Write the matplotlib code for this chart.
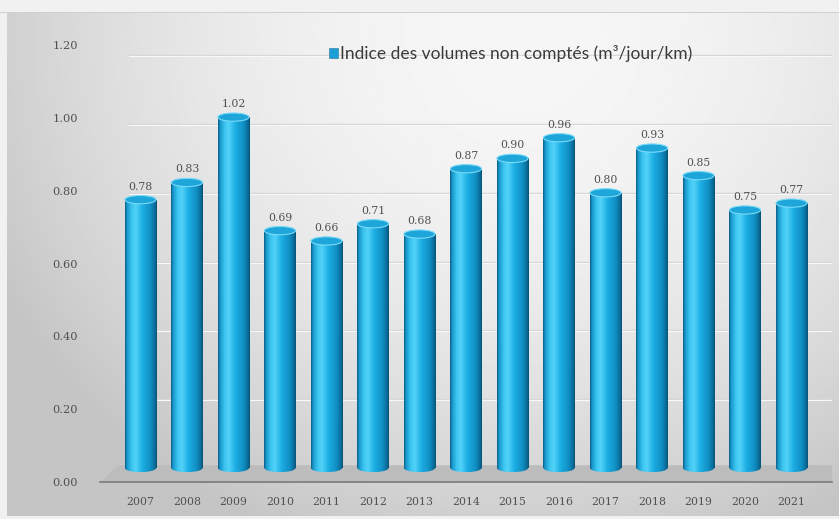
import numpy as np
import matplotlib
matplotlib.use("Agg")
import matplotlib.pyplot as plt
from matplotlib.colors import LinearSegmentedColormap
from matplotlib.patches import Ellipse, Polygon, Rectangle

years = ["2007", "2008", "2009", "2010", "2011", "2012", "2013", "2014",
         "2015", "2016", "2017", "2018", "2019", "2020", "2021"]
values = [0.78, 0.83, 1.02, 0.69, 0.66, 0.71, 0.68, 0.87,
          0.90, 0.96, 0.80, 0.93, 0.85, 0.75, 0.77]
yticks = [0.00, 0.20, 0.40, 0.60, 0.80, 1.00, 1.20]
legend_label = "Indice des volumes non comptés (m³/jour/km)"

W, H = 839, 519
fig = plt.figure(figsize=(W / 100, H / 100), dpi=100)
fig.patch.set_facecolor("#f1f1f1")

def rect(x0, y0, x1, y1):
    # pixel box (top-left origin) -> figure fraction
    return [x0 / W, 1 - y1 / H, (x1 - x0) / W, (y1 - y0) / H]

# background gradient panel
bg = fig.add_axes(rect(7, 13, 839, 516), zorder=0)
gx, gy = np.meshgrid(np.linspace(0, 1, 400), np.linspace(0, 1, 250))
r2 = ((gx - 0.62) / 0.72) ** 2 + ((gy - 0.05) / 1.1) ** 2
val = np.clip(0.965 - 0.2 * r2, 0.77, 0.97)
bg.imshow(val, cmap="gray", vmin=0, vmax=1, aspect="auto",
          extent=[0, 1, 1, 0], interpolation="bilinear")
bg.set_xlim(0, 1); bg.set_ylim(1, 0)
bg.axis("off")
# top separation line
fig.add_artist(Rectangle((0, 1 - 13 / H), 1, 1.2 / H, transform=fig.transFigure,
                         facecolor="#cfcfcf", edgecolor="none", zorder=1))

# main axes: pixel 46..482 vertical, 100..832 horizontal
ax = fig.add_axes(rect(100, 46, 832, 482), zorder=2)
ax.patch.set_alpha(0)
x = np.arange(len(years))
ax.set_xlim(-0.87, 14.87)
ax.set_ylim(-0.0407, 1.2267)
for s in ax.spines.values():
    s.set_visible(False)
ax.set_xticks(x)
ax.set_xticklabels(years, family="DejaVu Serif", fontsize=7.8, color="#505050")
ax.tick_params(axis="x", length=0, pad=11)
ax.set_yticks([])

# back wall gridlines
for v in yticks[1:]:
    ax.axhline(v, xmin=0.04, xmax=1.0, color="#d6d6d6", lw=1.0, zorder=1)
    ax.axhline(v - 0.003, xmin=0.04, xmax=1.0, color="#f8f8f8", lw=0.8, zorder=1)

# floor
floor = Polygon([[-0.87, -0.0407], [-0.48, 0.008], [14.87, 0.008], [14.87, -0.0407]],
                closed=True, facecolor="#bcbcbc", edgecolor="none", zorder=1)
ax.add_patch(floor)
ax.plot([-0.87, 14.87], [-0.0407, -0.0407], color="#7a7a7a", lw=1.2,
        zorder=2, clip_on=False)

# cylinder bars
bw = 0.67
cyl = LinearSegmentedColormap.from_list("cyl", [
    (0.00, "#0a5a80"), (0.06, "#1796cb"), (0.22, "#3ec8f2"),
    (0.34, "#52d2f7"), (0.55, "#1caee3"), (0.80, "#108fc4"),
    (0.94, "#0a6c99"), (1.00, "#085072")])
grad = np.linspace(0, 1, 256).reshape(1, -1)
eh = 0.024
bars = ax.bar(x, values, width=bw, color="none", edgecolor="none", zorder=3)
for b, v in zip(bars, values):
    x0 = b.get_x()
    im = ax.imshow(grad, cmap=cyl, aspect="auto", extent=[x0, x0 + bw, 0, v],
                   zorder=3, interpolation="bilinear")
    im.set_clip_path(b)
    # bottom cap
    bot = Ellipse((x0 + bw / 2, 0), bw, eh, facecolor="none", edgecolor="none")
    ax.add_patch(bot)
    im2 = ax.imshow(grad, cmap=cyl, aspect="auto",
                    extent=[x0, x0 + bw, -eh / 2, eh / 2], zorder=3,
                    interpolation="bilinear")
    im2.set_clip_path(bot)
    # top cap
    ax.add_patch(Ellipse((x0 + bw / 2, v), bw, eh, facecolor="#1ea6da",
                         edgecolor="#7adaf7", lw=0.8, zorder=4))
    ax.text(x0 + bw / 2, v + 0.038, f"{v:.2f}", ha="center", va="center",
            family="DejaVu Serif", fontsize=7.8, color="#505050", zorder=5)

# y tick labels on front face scale (pixel 45..482)
lab = fig.add_axes(rect(100, 45, 832, 482), zorder=1)
lab.patch.set_alpha(0)
lab.set_ylim(0, 1.2)
lab.set_yticks(yticks)
lab.set_yticklabels([f"{t:.2f}" for t in yticks], family="DejaVu Serif",
                    fontsize=8.2, color="#505050")
lab.tick_params(axis="y", length=0, pad=16)
lab.set_xticks([])
for s in lab.spines.values():
    s.set_visible(False)

# legend
fig.add_artist(Rectangle((329 / W, 1 - 58 / H), 9 / W, 10 / H,
                         transform=fig.transFigure, facecolor="#1a9fd6",
                         edgecolor="#4a90b0", lw=0.6, zorder=5))
fig.text(340 / W, 1 - 53 / H, legend_label, ha="left", va="center",
         family="Lato", fontsize=12.5, color="#3a3a3a", zorder=5)

fig.savefig("out.png", dpi=100)
